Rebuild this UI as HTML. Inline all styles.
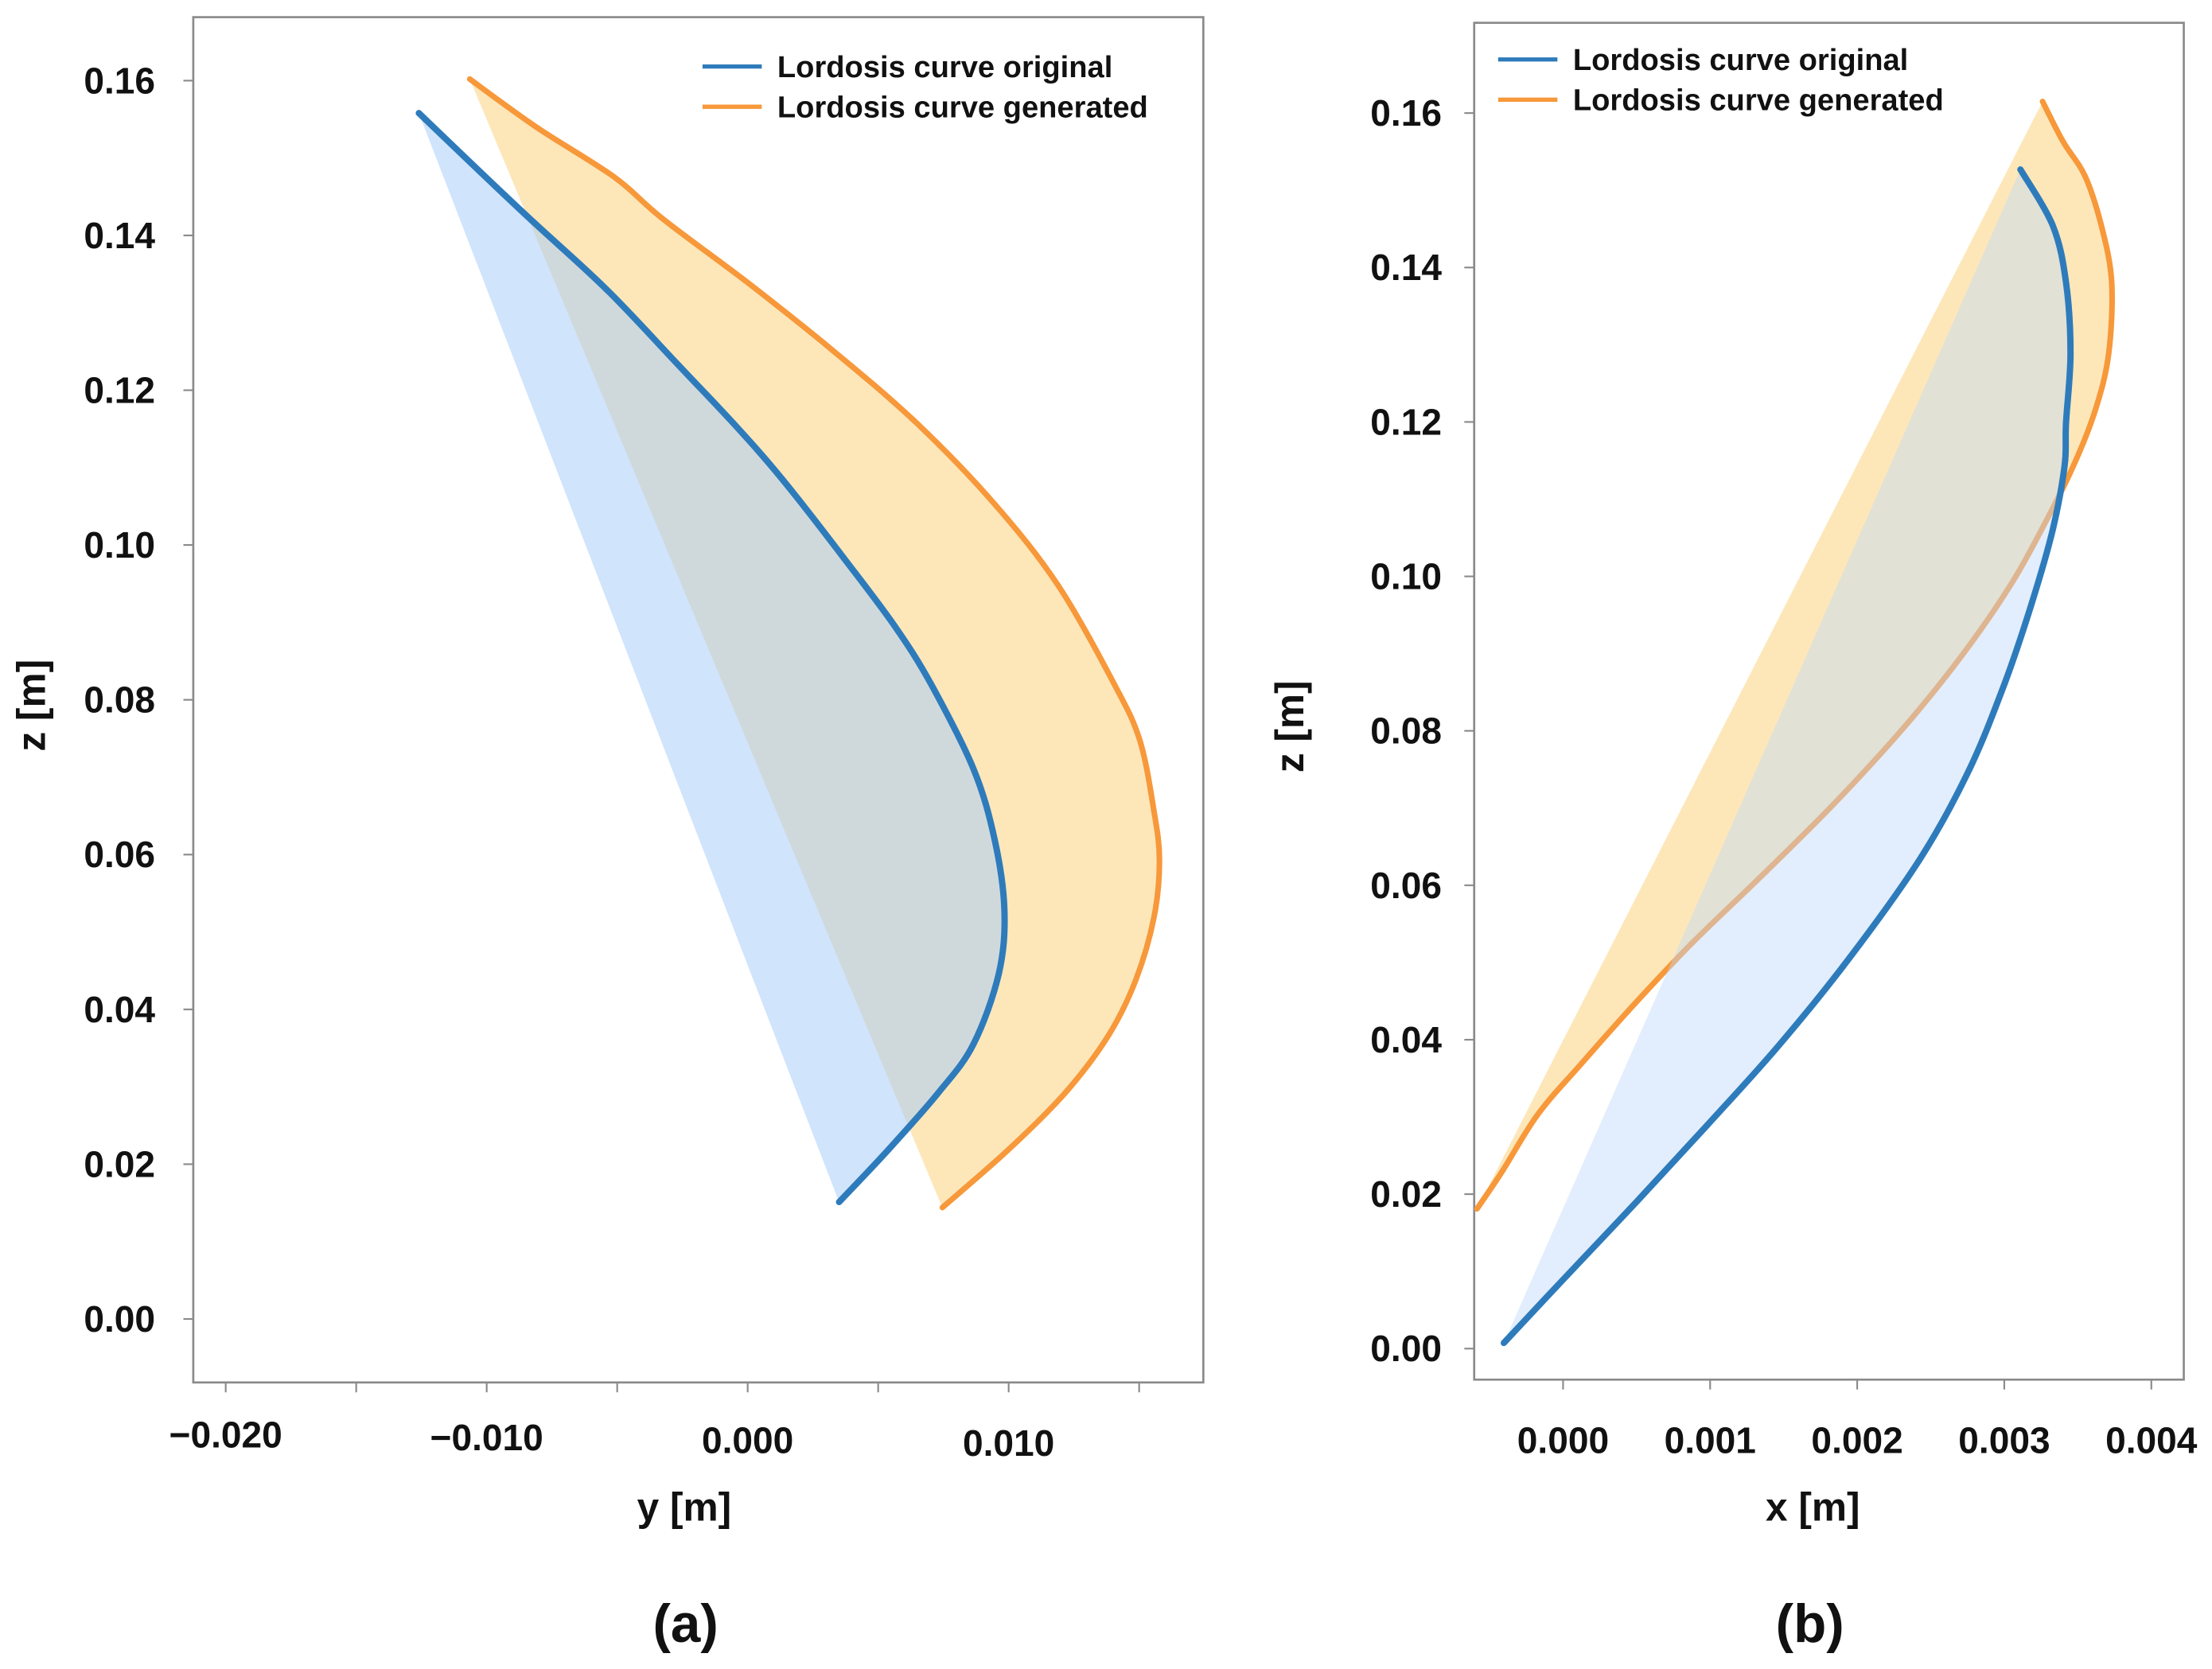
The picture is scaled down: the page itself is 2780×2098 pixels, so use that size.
<!DOCTYPE html>
<html><head><meta charset="utf-8">
<style>
html,body{margin:0;padding:0;background:#fff;}
svg{display:block;}
text{font-family:"Liberation Sans",Arial,sans-serif;font-weight:bold;fill:#111;}
</style></head>
<body>
<svg id="chart" width="2780" height="2098" viewBox="0 0 1568 1183" xmlns="http://www.w3.org/2000/svg">
<g id="pa"></g>
<g id="pb"></g>
<text x="486" y="1164" font-size="38" text-anchor="middle">(a)</text>
<text x="1283" y="1164" font-size="38" text-anchor="middle">(b)</text>
</svg>
<script>
// Panel (a) data: y [m], z [m]
const aOrigY = [-0.0126,-0.00865,-0.0054,-0.0027,-0.00054,0.00135,0.00378,0.00568,0.00703,0.00865,0.00946,0.00984,0.00962,0.00865,0.0073,0.0054,0.0035];
const aOrigZ = [0.1558,0.1431,0.1330,0.1234,0.1157,0.1084,0.0979,0.0893,0.0820,0.0711,0.0620,0.0528,0.0446,0.0355,0.0292,0.0219,0.0151];
const aGenY = [-0.01065,-0.0081,-0.00514,-0.00324,0,0.00324,0.00649,0.00946,0.01189,0.01405,0.01503,0.01557,0.01578,0.01557,0.01486,0.01378,0.01216,0.01,0.00746];
const aGenZ = [0.1602,0.1540,0.1476,0.1421,0.1339,0.1252,0.1157,0.1053,0.0948,0.0820,0.0747,0.0656,0.0592,0.0519,0.0437,0.0364,0.0292,0.0219,0.0144];
const aXTicks = [-0.020,-0.010,0.000,0.010];
const aXTickLabels = ["\u22120.020","\u22120.010","0.000","0.010"];
const aXMinor = [-0.015,-0.005,0.005,0.015];
const aYTicks = [0,0.02,0.04,0.06,0.08,0.10,0.12,0.14,0.16];
const aYTickLabels = ["0.00","0.02","0.04","0.06","0.08","0.10","0.12","0.14","0.16"];
// Panel (b) data: x [m], z [m]
const bOrigX = [-0.000403,0.0000192,0.000499,0.000978,0.00146,0.00194,0.00242,0.00275,0.00299,0.00318,0.00333,0.00341,0.00342,0.00345,0.00342,0.00333,0.00311];
const bOrigZ = [0.00073,0.00932,0.0190,0.0289,0.0391,0.0504,0.0632,0.0745,0.0855,0.0961,0.1061,0.1143,0.1198,0.1289,0.1381,0.1454,0.1527];
const bGenX = [-0.000585,-0.000412,-0.000173,0.000115,0.000499,0.000882,0.00136,0.00184,0.00232,0.00271,0.00304,0.00328,0.00347,0.00362,0.00371,0.00373,0.00366,0.00355,0.00340,0.00326];
const bGenZ = [0.0181,0.0230,0.0303,0.0367,0.0449,0.0526,0.0614,0.0705,0.0805,0.0897,0.0988,0.1070,0.1143,0.1216,0.1289,0.1381,0.1454,0.1518,0.1563,0.1615];
const bXTicks = [0,0.001,0.002,0.003,0.004];
const bXTickLabels = ["0.000","0.001","0.002","0.003","0.004"];
const bYTicks = [0,0.02,0.04,0.06,0.08,0.10,0.12,0.14,0.16];
const bYTickLabels = ["0.00","0.02","0.04","0.06","0.08","0.10","0.12","0.14","0.16"];
const seriesNames = ["Lordosis curve original","Lordosis curve generated"];

const NS="http://www.w3.org/2000/svg";
function mk(parent,tag,attrs){const e=document.createElementNS(NS,tag);for(const k in attrs)e.setAttribute(k,attrs[k]);parent.appendChild(e);return e;}

function smooth(P){
  let d='M'+P[0][0].toFixed(1)+','+P[0][1].toFixed(1);
  for(let i=0;i<P.length-1;i++){
    const p0=P[Math.max(0,i-1)],p1=P[i],p2=P[i+1],p3=P[Math.min(P.length-1,i+2)];
    const c1=[p1[0]+(p2[0]-p0[0])/6,p1[1]+(p2[1]-p0[1])/6];
    const c2=[p2[0]-(p3[0]-p1[0])/6,p2[1]-(p3[1]-p1[1])/6];
    d+=` C${c1[0].toFixed(1)},${c1[1].toFixed(1)} ${c2[0].toFixed(1)},${c2[1].toFixed(1)} ${p2[0].toFixed(1)},${p2[1].toFixed(1)}`;
  }
  return d;
}

function panel(g,cfg){
  const sx=v=>cfg.x0px+(v-cfg.x0v)*cfg.kx;
  const sy=v=>cfg.y0px-(v)*cfg.ky;
  const fr=mk(g,'rect',{x:cfg.L,y:cfg.T,width:cfg.R-cfg.L,height:cfg.B-cfg.T,fill:'none',stroke:'#8a8a8a','stroke-width':1.5});
  
  
  cfg.yt.forEach((v,i)=>{
    const t=mk(g,'line',{x1:cfg.L-7,x2:cfg.L,y1:sy(v),y2:sy(v),stroke:'#8a8a8a','stroke-width':1.2});
    
    
    const l=mk(g,'text',{x:cfg.L-cfg.ylOff,y:sy(v)+9,'font-size':26,'text-anchor':'end'});
    l.textContent=cfg.ytl[i];
    
    
  });
  cfg.xm.forEach(v=>{
    const t=mk(g,'line',{x1:sx(v),x2:sx(v),y1:cfg.B,y2:cfg.B+7,stroke:'#8a8a8a','stroke-width':1.2});
    
    
  });
  cfg.xt.forEach((v,i)=>{
    const l=mk(g,'text',{x:sx(v),y:cfg.B+cfg.xlOff+(cfg.stagger?i*2:0),'font-size':26,'text-anchor':'middle'});
    l.textContent=cfg.xtl[i];
    
    
  });
  const xl=mk(g,'text',{x:cfg.xlx,y:1078,'font-size':28,'text-anchor':'middle'});
  xl.textContent=cfg.xlabel;
  
  
  const yl=mk(g,'text',{x:0,y:0,'font-size':28,'text-anchor':'middle',transform:`translate(${cfg.ylx},${cfg.yly}) rotate(-90)`});
  yl.textContent='z [m]';
  
  
  const P=(X,Z)=>X.map((v,i)=>[sx(v),sy(Z[i])]);
  const gp=smooth(P(cfg.gx,cfg.gz)), op=smooth(P(cfg.ox,cfg.oz));
  const og=mk(g,'path',{d:gp+' Z',fill:'#fde7b9',stroke:'none'});
  
  
  let ol;
  const drawGenLine=()=>{ol=mk(g,'path',{d:gp,fill:'none',stroke:'#f7983a','stroke-width':4,'stroke-linejoin':'round','stroke-linecap':'round'});
    
    };
  if(cfg.genLineUnder) drawGenLine();
  const bf=mk(g,'path',{d:op+' Z',fill:cfg.blueFill,stroke:'none'});
  
  
  if(!cfg.genLineUnder) drawGenLine();
  const bl=mk(g,'path',{d:op,fill:'none',stroke:'#2e7bbb','stroke-width':4.5,'stroke-linejoin':'round','stroke-linecap':'round'});
  
  
  const cols=['#2e7bbb','#f7983a'];
  seriesNames.forEach((n,i)=>{
    const y=cfg.legY+i*28.5;
    const ln=mk(g,'line',{x1:cfg.legX,x2:cfg.legX+42,y1:y,y2:y,stroke:cols[i],'stroke-width':3});
    
    
    const t=mk(g,'text',{x:cfg.legX+53,y:y+7.5,'font-size':21.5});
    t.textContent=n;
    
    
  });
}

panel(document.getElementById('pa'),{L:137,R:853,T:12,B:980,x0px:530,x0v:0,kx:18500,y0px:935,ky:5487.5,
  yt:aYTicks,ytl:aYTickLabels,xt:aXTicks,xtl:aXTickLabels,xm:aXTicks.concat(aXMinor),ylOff:27,xlOff:46,stagger:true,
  xlabel:'y [m]',xlx:485,ylx:32,yly:500,gx:aGenY,gz:aGenZ,ox:aOrigY,oz:aOrigZ,blueFill:'rgba(170,205,250,0.55)',genLineUnder:false,legX:498,legY:47});
panel(document.getElementById('pb'),{L:1045,R:1548,T:16,B:978,x0px:1108,x0v:0,kx:104250,y0px:956,ky:5475,
  yt:bYTicks,ytl:bYTickLabels,xt:bXTicks,xtl:bXTickLabels,xm:bXTicks,ylOff:23,xlOff:52,stagger:false,
  xlabel:'x [m]',xlx:1285,ylx:924,yly:515,gx:bGenX,gz:bGenZ,ox:bOrigX,oz:bOrigZ,blueFill:'rgba(190,218,250,0.45)',genLineUnder:true,legX:1062,legY:42});
</script>
</body></html>
